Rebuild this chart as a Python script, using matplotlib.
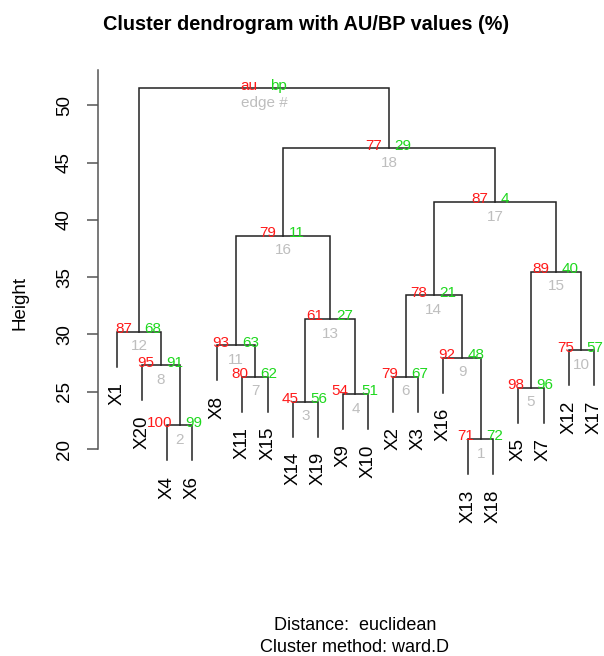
import matplotlib
matplotlib.use("Agg")
import matplotlib.pyplot as plt

plt.rcParams["font.family"] = ["Liberation Sans", "DejaVu Sans"]

# leaf order along the x axis (numbers of the X labels)
leaf_order = [1, 20, 4, 6, 8, 11, 15, 14, 19, 9, 10, 2, 3, 16, 13, 18, 5, 7, 12, 17]

# hclust style merge table: negative = leaf, positive = earlier merge (edge #)
merges = [(-13, -18), (-4, -6), (-14, -19), (-9, -10), (-5, -7), (-2, -3),
          (-11, -15), (-20, 2), (-16, 1), (-12, -17), (-8, 7), (-1, 8),
          (3, 4), (6, 9), (5, 10), (11, 13), (14, 15), (16, 17), (12, 18)]
heights = [20.87, 22.07, 24.13, 24.80, 25.35, 26.31, 26.31, 27.31, 27.97, 28.61,
           29.05, 30.24, 31.35, 33.40, 35.48, 38.62, 41.56, 46.25, 51.48]
au = [71, 100, 45, 54, 98, 79, 80, 95, 92, 75, 93, 87, 61, 78, 89, 79, 87, 77]
bp = [72, 99, 56, 51, 96, 67, 62, 91, 48, 57, 63, 68, 27, 21, 40, 11, 4, 29]

RED = "#ff1a1a"
GREEN = "#1ed81e"
GRAY = "#bebebe"
LINE = "#222222"

W, H = 604, 656
fig = plt.figure(figsize=(W / 100, H / 100), dpi=100)

# axes placed in pixel terms (plot region runs past the right edge)
px_left, px_top, px_bottom = 98, 40, 600
ax = fig.add_axes([px_left / W, 1 - px_bottom / H, 1 - px_left / W, (px_bottom - px_top) / H])
ax.set_xlim(0.24, 20.41)
ax.set_ylim(20 - (px_bottom - 449) / 11.457, 20 + (449 - px_top) / 11.457)

hang = 0.1 * (max(heights) - min(heights))
leaf_x = {leaf: i + 1 for i, leaf in enumerate(leaf_order)}

node_x = {}
node_h = {}


def child_pos(c, h):
    if c < 0:
        return leaf_x[-c], h - hang
    return node_x[c], node_h[c]


for k, ((a, b), h) in enumerate(zip(merges, heights), start=1):
    xa, ya = child_pos(a, h)
    xb, yb = child_pos(b, h)
    ax.plot([xa, xa, xb, xb], [ya, h, h, yb], color=LINE, lw=1.1, solid_joinstyle="miter")
    node_x[k] = (xa + xb) / 2
    node_h[k] = h
    for c, xc, yc in ((a, xa, ya), (b, xb, yb)):
        if c < 0:
            ax.annotate("X%d" % -c, (xc, yc), xytext=(0, -11), textcoords="offset points",
                        rotation=90, ha="center", va="top", fontsize=13.5, annotation_clip=False)

# au / bp / edge numbers
for k in range(1, len(merges)):
    x, h = node_x[k], node_h[k]
    ax.annotate(str(au[k - 1]), (x, h), xytext=(-5, -1), textcoords="offset points",
                ha="right", va="baseline", color=RED, fontsize=11, annotation_clip=False)
    ax.annotate(str(bp[k - 1]), (x, h), xytext=(4, -1), textcoords="offset points",
                ha="left", va="baseline", color=GREEN, fontsize=11, annotation_clip=False)
    ax.annotate(str(k), (x, h), xytext=(0, -5.5), textcoords="offset points",
                ha="center", va="top", color=GRAY, fontsize=11, annotation_clip=False)

root = len(merges)
x, h = node_x[root], node_h[root]
ax.annotate("au", (x, h), xytext=(-5, -1), textcoords="offset points",
            ha="right", va="baseline", color=RED, fontsize=11)
ax.annotate("bp", (x, h), xytext=(4, -1), textcoords="offset points",
            ha="left", va="baseline", color=GREEN, fontsize=11)
ax.annotate("edge #", (x, h), xytext=(0, -5.5), textcoords="offset points",
            ha="center", va="top", color=GRAY, fontsize=11)

# y axis like base R
for s in ("top", "right", "bottom"):
    ax.spines[s].set_visible(False)
ax.spines["left"].set_bounds(20, 53.1)
ax.spines["left"].set_color("#555555")
ax.spines["left"].set_linewidth(1.1)
ax.set_xticks([])
ax.set_yticks([20, 25, 30, 35, 40, 45, 50])
ax.tick_params(axis="y", length=8, width=1.1, color="#555555", pad=10, labelsize=13.5)
for t in ax.get_yticklabels():
    t.set_rotation(90)
    t.set_va("center")

fig.text(20 / W, 1 - 303 / H, "Height", rotation=90, ha="center", va="center", fontsize=13.5)
fig.text(306 / W, 1 - 25 / H, "Cluster dendrogram with AU/BP values (%)",
         ha="center", va="center", fontsize=14.3, fontweight="bold")
fig.text(355 / W, 1 - 625 / H, "Distance:  euclidean", ha="center", va="center", fontsize=13)
fig.text(355 / W, 1 - 647 / H, "Cluster method: ward.D", ha="center", va="center", fontsize=13)

fig.savefig("out.png", dpi=100)
